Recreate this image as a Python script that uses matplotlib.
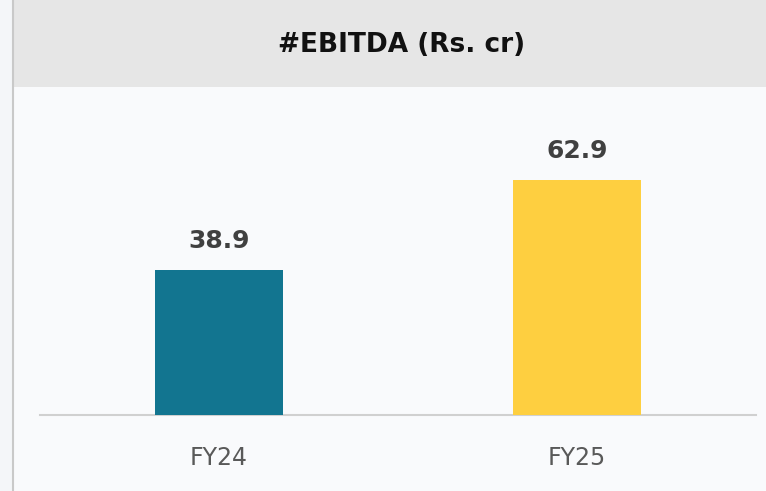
import matplotlib.pyplot as plt
from matplotlib.patches import Rectangle
from matplotlib.lines import Line2D

# data
years = ['FY24', 'FY25']
ebitda = [38.9, 62.9]
barColors = ['#127590', '#fecf40']
title = '#EBITDA (Rs. cr)'

plt.rcParams['font.family'] = ['Liberation Sans Narrow', 'DejaVu Sans']

W, H = 766, 491
fig = plt.figure(figsize=(W / 100, H / 100), dpi=100)
fig.patch.set_facecolor('#f4f6f9')

# panel background and title band (pixel coords from the top-left)
def box(x0, y0, x1, y1):
    return [x0 / W, 1 - y1 / H, (x1 - x0) / W, (y1 - y0) / H]

fig.patches.append(Rectangle((14 / W, 0), 1, 1, transform=fig.transFigure,
                             facecolor='#f9fafc', edgecolor='none', zorder=-3))
fig.patches.append(Rectangle((14 / W, 1 - 87 / H), 1, 87 / H, transform=fig.transFigure,
                             facecolor='#e6e6e6', edgecolor='none', zorder=-2))
fig.lines.append(Line2D([13 / W, 13 / W], [0, 1], transform=fig.transFigure,
                        color='#c9c9c9', linewidth=1.5, zorder=-1))
fig.text(402 / W, 1 - 45 / H, title, ha='center', va='center',
         fontsize=19, fontweight='bold', color='#111111')

# the bars
ax = fig.add_axes(box(40, 88, 756, 415))
ax.set_zorder(5)
ax.set_facecolor('none')
x = range(len(years))
bars = ax.bar(x, ebitda, width=0.355, color=barColors, zorder=3)
for b, v in zip(bars, ebitda):
    ax.text(b.get_x() + b.get_width() / 2, v + 4.5, f'{v:.1f}', ha='center', va='bottom',
            fontsize=18, fontweight='bold', color='#404040')

ax.set_xlim(-0.5, 1.5)
ax.set_ylim(0, 87.5)
ax.set_xticks(list(x))
ax.set_xticklabels(years, fontsize=17, color='#595959')
ax.tick_params(axis='x', length=0, pad=22)
ax.set_yticks([])
for s in ['top', 'left', 'right']:
    ax.spines[s].set_visible(False)
ax.spines['bottom'].set_color('#d0d0d0')
ax.spines['bottom'].set_linewidth(1.5)

plt.savefig('out.png', dpi=100)
